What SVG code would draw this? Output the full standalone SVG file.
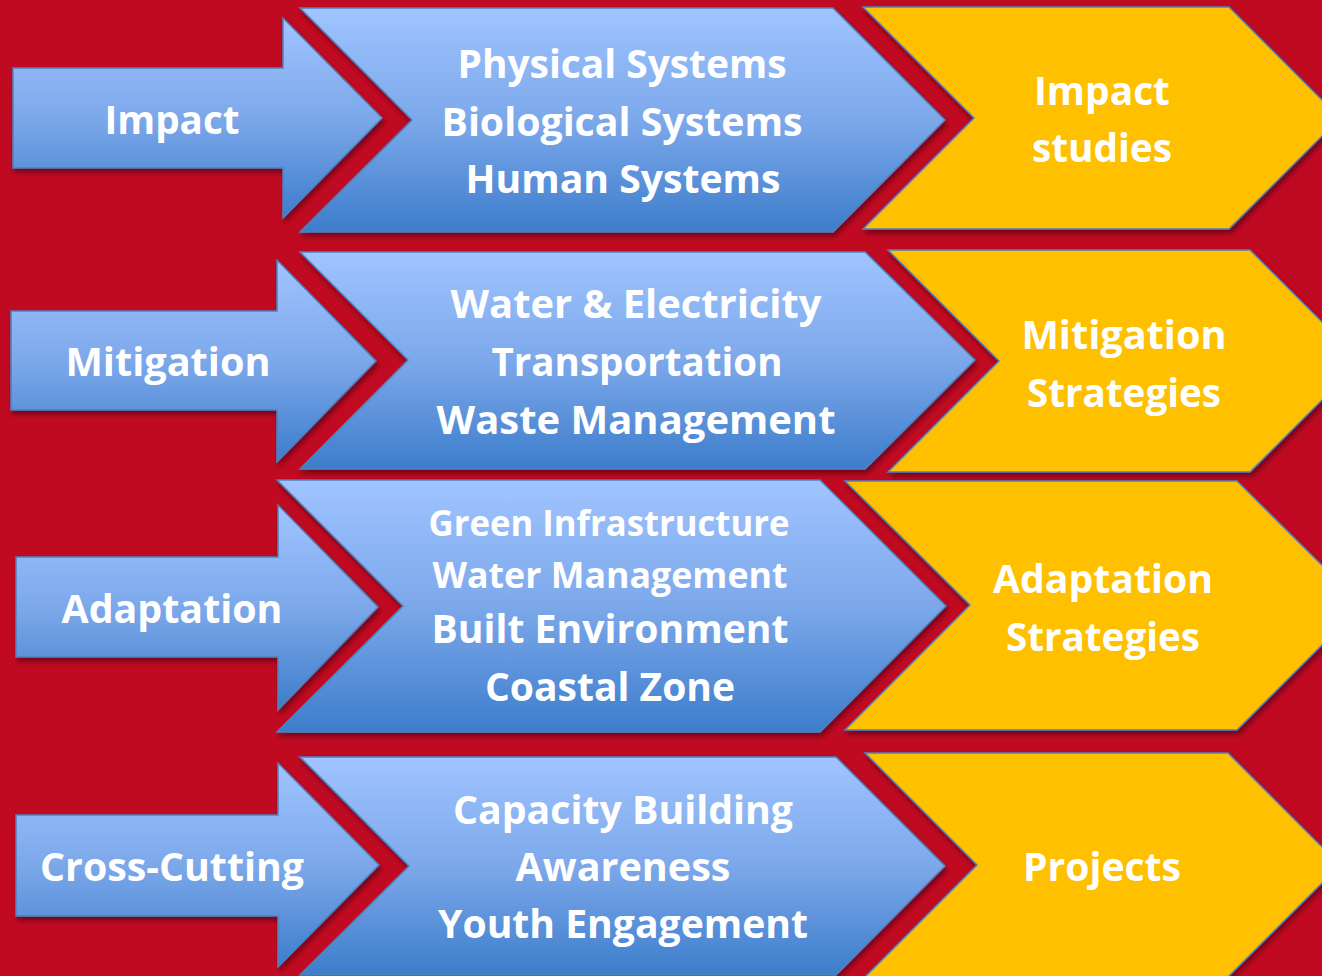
<svg xmlns="http://www.w3.org/2000/svg" width="1322" height="976" viewBox="0 0 1322 976">
<defs>
<linearGradient id="blue" x1="0" y1="0" x2="0" y2="1">
<stop offset="0" stop-color="#A0C4FF"/>
<stop offset="0.5" stop-color="#7CA8EA"/>
<stop offset="1" stop-color="#3D7DCB"/>
</linearGradient>
<filter id="sh" x="-10%" y="-10%" width="125%" height="130%">
<feDropShadow dx="2" dy="4" stdDeviation="2.5" flood-color="#4a0010" flood-opacity="0.6"/>
</filter>
</defs>
<style>
.b{fill:url(#blue);stroke:#4F81BD;stroke-width:1.5;filter:url(#sh)}
.y{fill:#FFC000;stroke:#4F81BD;stroke-width:1.5;filter:url(#sh)}
text{font-family:"Open Sans","Liberation Sans",sans-serif;font-weight:700;fill:#FFFFFF;text-anchor:middle;font-size:40px}
.s{font-size:36px}
</style>
<rect x="0" y="0" width="1322" height="976" fill="#C00A22"/>

<g id="impact">
<polygon class="b" points="13,68 283,68 283,18 382,118 283,218 283,168 13,168"/>
<text x="172" y="134" textLength="135" lengthAdjust="spacingAndGlyphs">Impact</text>
</g>
<g id="impact-systems">
<polygon class="b" points="300,8 833,8 945,120 833,232 300,232 412,120"/>
<text x="622" y="78" textLength="329" lengthAdjust="spacingAndGlyphs">Physical Systems</text>
<text x="622" y="136" textLength="361" lengthAdjust="spacingAndGlyphs">Biological Systems</text>
<text x="623" y="193" textLength="315" lengthAdjust="spacingAndGlyphs">Human Systems</text>
</g>
<g id="impact-studies">
<polygon class="y" points="863,7 1229,7 1340,118 1229,229 863,229 974,118"/>
<text x="1102" y="105" textLength="136" lengthAdjust="spacingAndGlyphs">Impact</text>
<text x="1102" y="162" textLength="140" lengthAdjust="spacingAndGlyphs">studies</text>
</g>

<g id="mitigation">
<polygon class="b" points="11,311 277,311 277,260 376,361 277,462 277,410 11,410"/>
<text x="168" y="376" textLength="205" lengthAdjust="spacingAndGlyphs">Mitigation</text>
</g>
<g id="mitigation-sectors">
<polygon class="b" points="300,252 865,252 975,360 865,469 300,469 408,360"/>
<text x="636" y="318" textLength="371" lengthAdjust="spacingAndGlyphs">Water &amp; Electricity</text>
<text x="637" y="376" textLength="291" lengthAdjust="spacingAndGlyphs">Transportation</text>
<text x="636" y="434" textLength="399" lengthAdjust="spacingAndGlyphs">Waste Management</text>
</g>
<g id="mitigation-strategies">
<polygon class="y" points="888,250 1250,250 1361,361 1250,472 888,472 999,361"/>
<text x="1124" y="349" textLength="205" lengthAdjust="spacingAndGlyphs">Mitigation</text>
<text x="1124" y="407" textLength="194" lengthAdjust="spacingAndGlyphs">Strategies</text>
</g>

<g id="adaptation">
<polygon class="b" points="16,557 278,557 278,505 378,607 278,710 278,657 16,657"/>
<text x="172" y="623" textLength="221" lengthAdjust="spacingAndGlyphs">Adaptation</text>
</g>
<g id="adaptation-sectors">
<polygon class="b" points="277,480 820,480 946,606 820,732 277,732 403,606"/>
<text class="s" x="609" y="536" textLength="361" lengthAdjust="spacingAndGlyphs">Green Infrastructure</text>
<text class="s" x="610" y="588" textLength="355" lengthAdjust="spacingAndGlyphs">Water Management</text>
<text x="610" y="643" textLength="357" lengthAdjust="spacingAndGlyphs">Built Environment</text>
<text x="610" y="701" textLength="250" lengthAdjust="spacingAndGlyphs">Coastal Zone</text>
</g>
<g id="adaptation-strategies">
<polygon class="y" points="845,481 1237,481 1362,605 1237,730 845,730 970,605"/>
<text x="1103" y="593" textLength="220" lengthAdjust="spacingAndGlyphs">Adaptation</text>
<text x="1103" y="651" textLength="194" lengthAdjust="spacingAndGlyphs">Strategies</text>
</g>

<g id="cross-cutting">
<polygon class="b" points="16,815 278,815 278,763 379,865 278,967 278,916 16,916"/>
<text x="172" y="881" textLength="264" lengthAdjust="spacingAndGlyphs">Cross-Cutting</text>
</g>
<g id="cross-cutting-themes">
<polygon class="b" points="300,757 836,757 945,866 836,975 300,975 409,866"/>
<text x="623" y="824" textLength="340" lengthAdjust="spacingAndGlyphs">Capacity Building</text>
<text x="623" y="881" textLength="215" lengthAdjust="spacingAndGlyphs">Awareness</text>
<text x="623" y="938" textLength="370" lengthAdjust="spacingAndGlyphs">Youth Engagement</text>
</g>
<g id="projects">
<polygon class="y" points="865,753 1228,753 1340,865 1228,977 865,977 977,865"/>
<text x="1102" y="881" textLength="158" lengthAdjust="spacingAndGlyphs">Projects</text>
</g>
<g id="connectors"/>
</svg>
